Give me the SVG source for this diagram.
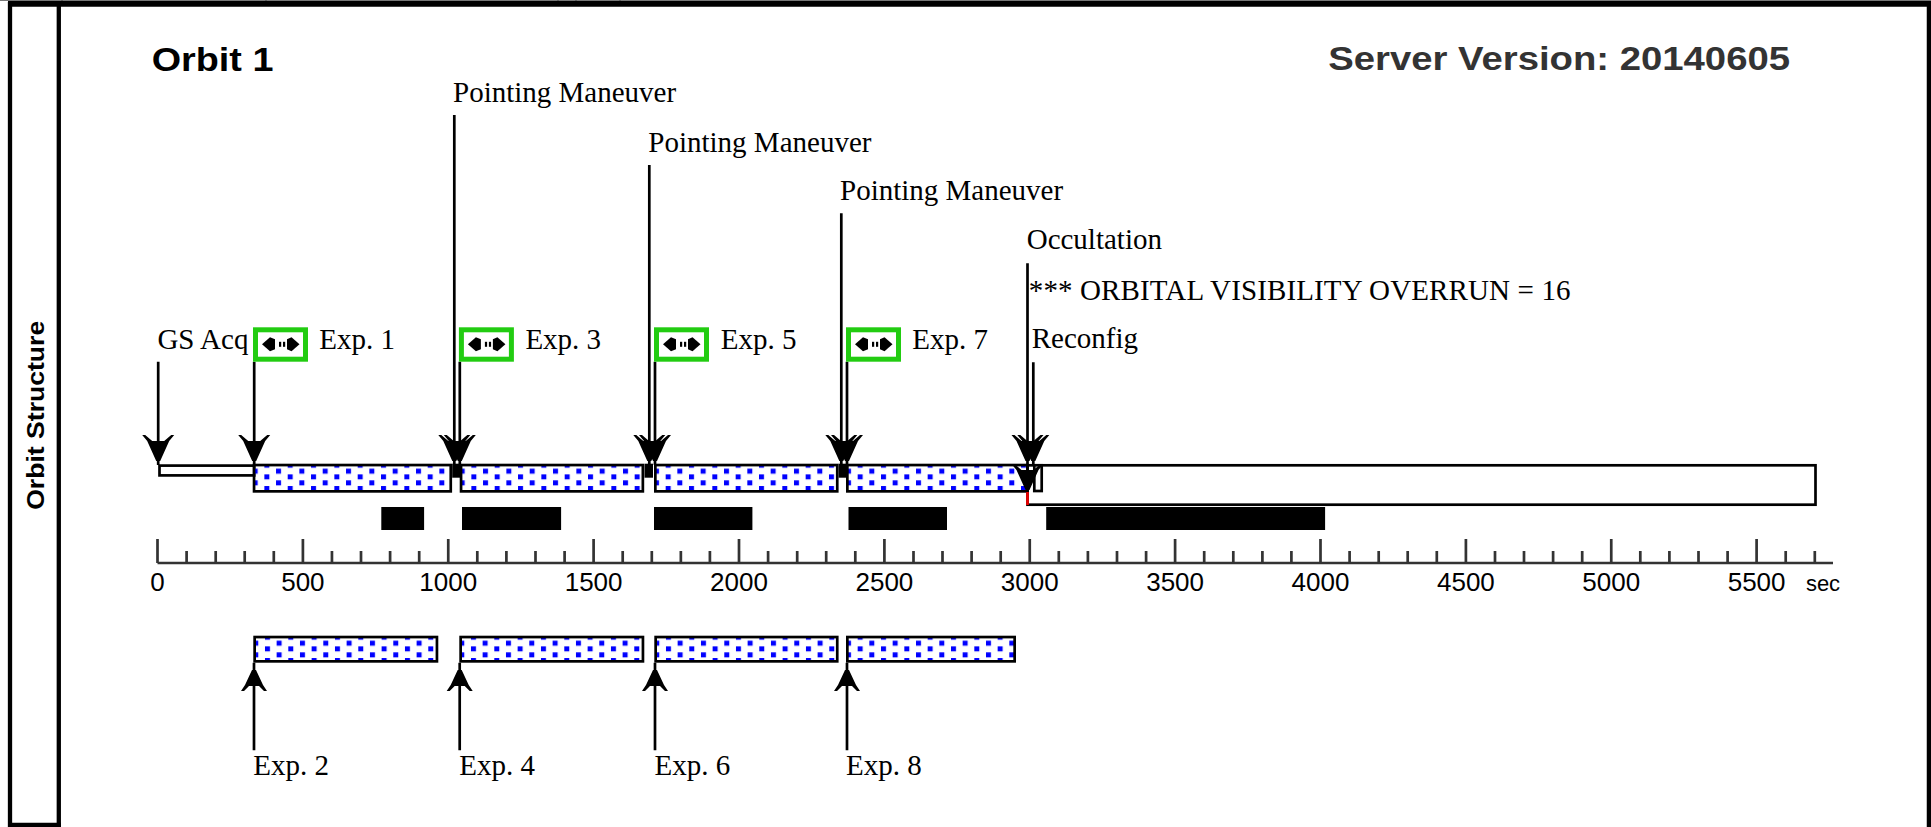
<svg xmlns="http://www.w3.org/2000/svg" xmlns:xlink="http://www.w3.org/1999/xlink" width="1931" height="827" viewBox="0 0 1931 827">
<style>
.frame{stroke:#000;stroke-width:4.3;fill:none}
.ttl{font-family:"Liberation Sans",Arial,sans-serif;font-weight:bold;font-size:34px}
.lbl{font-family:"Liberation Serif","Times New Roman",serif;font-size:29px;fill:#000}
.axl{font-family:"Liberation Sans",Arial,sans-serif;font-size:26px;fill:#000;text-anchor:middle}
.axis{stroke:#333;stroke-width:2.7;fill:none}
.ln{stroke:#000;stroke-width:2.7;fill:none}
.bar{stroke:#000;stroke-width:2.7;fill:url(#dots)}
.wbar{stroke:#000;stroke-width:2.7;fill:#fff}
.blk{fill:#000}
.gbox{stroke:#22cc11;stroke-width:5;fill:#fff}
</style>
<defs>
<pattern id="dots" patternUnits="userSpaceOnUse" x="0" y="-1" width="23.33" height="11.67">
<rect x="0" y="6" width="5" height="5" fill="#0000ff"/>
<rect x="11.67" y="0" width="5" height="5" fill="#0000ff"/>
</pattern>
<path id="ahD" d="M-2,0 L-11,-20 L-16,-26 L-13,-26 L-6,-20 L6,-20 L13,-26 L16,-26 L11,-20 L2,0 Z" fill="#000"/>
<path id="ahU" d="M-2,0 L-9,15 L-13,21 L-10,21 L-5,16 L5,16 L10,21 L13,21 L9,15 L2,0 Z" fill="#000"/>
<g id="icon">
<path d="M9,17 L17,10 L22,12 L22,22 L17,24 Z" fill="#000"/>
<rect x="26" y="14.5" width="2.2" height="5" fill="#000"/>
<rect x="30" y="14.5" width="2.2" height="5" fill="#000"/>
<path d="M46.5,17 L38.5,10 L34,12 L34,22 L38.5,24 Z" fill="#000"/>
</g>
</defs>
<rect x="0" y="0" width="1931" height="827" fill="#fff"/>

<g id="frame">
<line x1="0" y1="0.5" x2="1931" y2="0.5" stroke="#777" stroke-width="1"/>
<path d="M62,0V3 M266,0V3 M558,0V3 M576,0V3 M620,0V3" stroke="#555" stroke-width="1.5"/>
<line x1="8" y1="3.8" x2="1931" y2="3.8" stroke="#000" stroke-width="5.7"/>
<line x1="10" y1="2" x2="10" y2="827" class="frame"/>
<line x1="58.8" y1="2" x2="58.8" y2="827" class="frame"/>
<line x1="1928.9" y1="2" x2="1928.9" y2="827" class="frame"/>
<line x1="8" y1="825" x2="61" y2="825" class="frame"/>
<text class="ttl" text-anchor="middle" transform="translate(44,415.3) rotate(-90)" style="font-size:23px" textLength="189" lengthAdjust="spacingAndGlyphs">Orbit Structure</text>
</g>

<g id="titles">
<text class="ttl" x="151.7" y="70.7" fill="#000" textLength="121.7" lengthAdjust="spacingAndGlyphs">Orbit 1</text>
<text class="ttl" x="1328.3" y="70" fill="#333" textLength="461.7" lengthAdjust="spacingAndGlyphs">Server Version: 20140605</text>
</g>

<g id="timeline-bg">
<rect id="occultation-bar" class="wbar" x="1027.5" y="465.3" width="788" height="39.4"/>
<rect id="gs-acq-bar" class="wbar" x="159.5" y="465.6" width="94.7" height="9.8"/>
</g>

<g id="exp1-bar" transform="translate(252.7,463.7)"><rect class="bar" x="1.35" y="1.35" width="196.7" height="26.3"/></g>
<g id="exp3-bar" transform="translate(459.7,463.7)"><rect class="bar" x="1.35" y="1.35" width="181.8" height="26.3"/></g>
<g id="exp5-bar" transform="translate(654,463.7)"><rect class="bar" x="1.35" y="1.35" width="181.9" height="26.3"/></g>
<g id="exp7-bar" transform="translate(846,463.7)"><rect class="bar" x="1.35" y="1.35" width="180.2" height="26.3"/></g>

<g id="exp2-bar" transform="translate(253.3,635.7)"><rect class="bar" x="1.35" y="1.35" width="182.3" height="24.3"/></g>
<g id="exp4-bar" transform="translate(459.3,635.7)"><rect class="bar" x="1.35" y="1.35" width="182.3" height="24.3"/></g>
<g id="exp6-bar" transform="translate(654.3,635.7)"><rect class="bar" x="1.35" y="1.35" width="181.6" height="24.3"/></g>
<g id="exp8-bar" transform="translate(846,635.7)"><rect class="bar" x="1.35" y="1.35" width="167.3" height="24.3"/></g>

<g id="reconfig-bar"><rect class="wbar" x="1034.3" y="465.3" width="7.4" height="25.7"/></g>

<g id="maneuvers">
<rect class="blk" x="452.2" y="463.7" width="7.8" height="14"/>
<rect class="blk" x="644.5" y="463.7" width="8.5" height="14"/>
<rect class="blk" x="838.6" y="463.7" width="7.6" height="14"/>
</g>

<g id="occultations">
<rect class="blk" x="381.3" y="507" width="42.8" height="23"/>
<rect class="blk" x="462" y="507" width="99.1" height="23"/>
<rect class="blk" x="654" y="507" width="98.4" height="23"/>
<rect class="blk" x="848.5" y="507" width="98.5" height="23"/>
<rect class="blk" x="1046.2" y="507" width="278.9" height="23"/>
</g>

<g id="axis">
<path class="axis" d="M157.5,563H1833"/>
<path class="axis" d="M157.5,539V563M302.9,539V563M448.25,539V563M593.6,539V563M739,539V563M884.4,539V563M1029.75,539V563M1175.1,539V563M1320.5,539V563M1465.9,539V563M1611.25,539V563M1756.6,539V563"/>
<path class="axis" d="M186.6,551V563M215.7,551V563M244.7,551V563M273.8,551V563M331.95,551V563M361,551V563M390.1,551V563M419.2,551V563M477.3,551V563M506.4,551V563M535.5,551V563M564.6,551V563M622.7,551V563M651.8,551V563M680.85,551V563M709.9,551V563M768.1,551V563M797.2,551V563M826.2,551V563M855.3,551V563M913.5,551V563M942.5,551V563M971.6,551V563M1000.7,551V563M1058.8,551V563M1087.9,551V563M1117,551V563M1146.1,551V563M1204.2,551V563M1233.3,551V563M1262.4,551V563M1291.4,551V563M1349.6,551V563M1378.7,551V563M1407.7,551V563M1436.8,551V563M1495,551V563M1524,551V563M1553.1,551V563M1582.2,551V563M1640.3,551V563M1669.4,551V563M1698.5,551V563M1727.6,551V563M1785.7,551V563M1814.8,551V563"/>
<text class="axl" x="157.5" y="590.7">0</text>
<text class="axl" x="302.9" y="590.7">500</text>
<text class="axl" x="448.25" y="590.7">1000</text>
<text class="axl" x="593.6" y="590.7">1500</text>
<text class="axl" x="739" y="590.7">2000</text>
<text class="axl" x="884.4" y="590.7">2500</text>
<text class="axl" x="1029.75" y="590.7">3000</text>
<text class="axl" x="1175.1" y="590.7">3500</text>
<text class="axl" x="1320.5" y="590.7">4000</text>
<text class="axl" x="1465.9" y="590.7">4500</text>
<text class="axl" x="1611.25" y="590.7">5000</text>
<text class="axl" x="1756.6" y="590.7">5500</text>
<text class="axl" x="1823" y="591" style="font-size:22px">sec</text>
</g>

<g id="connectors">
<path class="ln" d="M158.2,361.7V465 M254.2,361.7V465 M454.3,115V465 M459.8,361.7V465 M649.3,165V465 M655,361.7V465 M841.3,213.3V465 M847,361.7V465 M1027.5,263.3V492 M1033.3,362.3V465"/>
<use xlink:href="#ahD" x="158.2" y="461"/>
<use xlink:href="#ahD" x="254.2" y="461"/>
<use xlink:href="#ahD" x="454.3" y="461"/>
<use xlink:href="#ahD" x="459.8" y="461"/>
<use xlink:href="#ahD" x="649.3" y="461"/>
<use xlink:href="#ahD" x="655" y="461"/>
<use xlink:href="#ahD" x="841.3" y="461"/>
<use xlink:href="#ahD" x="847" y="461"/>
<use xlink:href="#ahD" x="1027.5" y="461"/>
<use xlink:href="#ahD" x="1033.3" y="461"/>
<use xlink:href="#ahD" x="1027.5" y="490"/>
<line x1="1027.5" y1="492" x2="1027.5" y2="505" stroke="#ee0000" stroke-width="2.7"/>
<path class="ln" d="M254,662.7V750.3 M459.7,662.7V750.3 M655,662.7V750.3 M847,662.7V750.3"/>
<use xlink:href="#ahU" x="254" y="670"/>
<use xlink:href="#ahU" x="459.7" y="670"/>
<use xlink:href="#ahU" x="655" y="670"/>
<use xlink:href="#ahU" x="847" y="670"/>
</g>

<g id="exp1-box"><rect class="gbox" x="255.5" y="329.8" width="50" height="29.4"/><use xlink:href="#icon" x="253" y="327.3"/></g>
<g id="exp3-box"><rect class="gbox" x="461.4" y="329.8" width="50" height="29.4"/><use xlink:href="#icon" x="458.9" y="327.3"/></g>
<g id="exp5-box"><rect class="gbox" x="656.5" y="329.8" width="50" height="29.4"/><use xlink:href="#icon" x="654" y="327.3"/></g>
<g id="exp7-box"><rect class="gbox" x="848.5" y="329.8" width="50" height="29.4"/><use xlink:href="#icon" x="846" y="327.3"/></g>

<g id="labels">
<text class="lbl" x="453" y="101.7">Pointing Maneuver</text>
<text class="lbl" x="648.3" y="151.7">Pointing Maneuver</text>
<text class="lbl" x="840" y="200">Pointing Maneuver</text>
<text class="lbl" x="1026.7" y="249.3">Occultation</text>
<text class="lbl" x="1028.8" y="300" textLength="541.7" lengthAdjust="spacing">*** ORBITAL VISIBILITY OVERRUN = 16</text>
<text class="lbl" x="1031.7" y="348.3">Reconfig</text>
<text class="lbl" x="157.4" y="349">GS Acq</text>
<text class="lbl" x="319.3" y="349">Exp. 1</text>
<text class="lbl" x="525.4" y="349">Exp. 3</text>
<text class="lbl" x="720.7" y="349">Exp. 5</text>
<text class="lbl" x="912.3" y="349">Exp. 7</text>
<text class="lbl" x="253.3" y="775">Exp. 2</text>
<text class="lbl" x="459.3" y="775">Exp. 4</text>
<text class="lbl" x="654.5" y="775">Exp. 6</text>
<text class="lbl" x="846" y="775">Exp. 8</text>
</g>
</svg>
